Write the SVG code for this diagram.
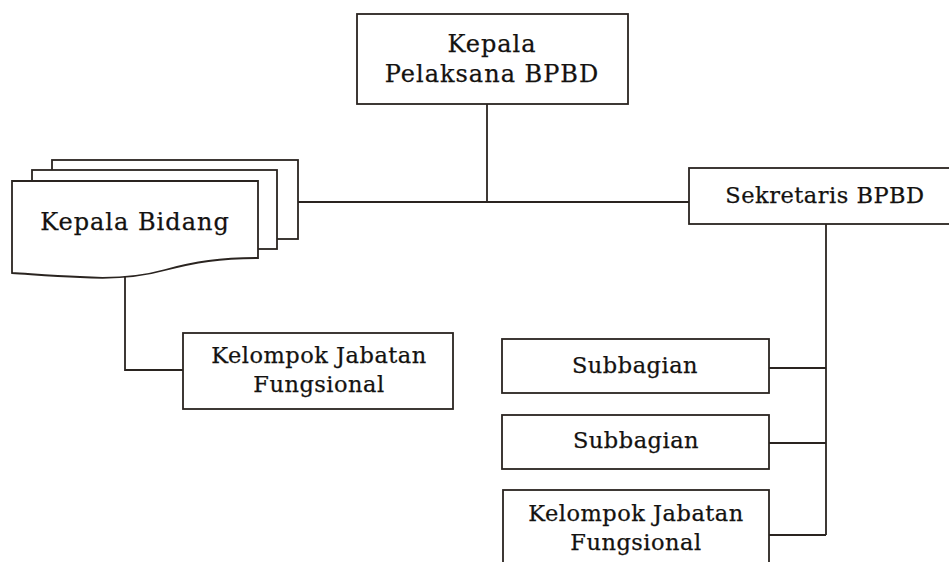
<svg xmlns="http://www.w3.org/2000/svg" width="949" height="562" viewBox="0 0 949 562">
<style>
.box{fill:#ffffff;stroke:#2a2420;stroke-width:1.8}
.ln{fill:none;stroke:#2a2420;stroke-width:1.8}
.t{font-family:"DejaVu Serif","Liberation Serif",serif;fill:#141210;stroke:#141210;stroke-width:0.25;text-anchor:middle;font-size:22.5px;letter-spacing:0.5px}
.tb{font-size:24px;letter-spacing:1px}
</style>
<rect width="949" height="562" fill="#ffffff"/>
<g id="connectors">
<path class="ln" d="M487,104 V202"/>
<path class="ln" d="M298,202 H689"/>
<path class="ln" d="M125,277 V370 H183"/>
<path class="ln" d="M826,224 V535"/>
<path class="ln" d="M769,368 H826"/>
<path class="ln" d="M769,443 H826"/>
<path class="ln" d="M769,535 H826"/>
</g>
<g id="kepala-pelaksana">
<rect class="box" x="357" y="14" width="271" height="90"/>
<text class="t tb" x="492" y="52">Kepala</text>
<text class="t tb" x="492" y="82">Pelaksana BPBD</text>
</g>
<g id="kepala-bidang">
<rect class="box" x="52" y="160" width="246" height="79"/>
<rect class="box" x="32" y="170" width="245" height="79"/>
<path class="box" d="M12,181 H258 V258 C220,258 195,262 165,270 C140,277 110,279 80,277 C50,276 30,274 12,273 Z"/>
<text class="t tb" x="135" y="230">Kepala Bidang</text>
</g>
<g id="sekretaris">
<rect class="box" x="689" y="168" width="265" height="56"/>
<text class="t" x="825" y="203">Sekretaris BPBD</text>
</g>
<g id="kelompok-kiri">
<rect class="box" x="183" y="333" width="270" height="76"/>
<text class="t" x="319" y="363">Kelompok Jabatan</text>
<text class="t" x="319" y="392">Fungsional</text>
</g>
<g id="subbagian-1">
<rect class="box" x="502" y="339" width="267" height="54"/>
<text class="t" x="635" y="373">Subbagian</text>
</g>
<g id="subbagian-2">
<rect class="box" x="502" y="415" width="267" height="54"/>
<text class="t" x="636" y="448">Subbagian</text>
</g>
<g id="kelompok-kanan">
<rect class="box" x="503" y="490" width="266" height="80"/>
<text class="t" x="636" y="521">Kelompok Jabatan</text>
<text class="t" x="636" y="550">Fungsional</text>
</g>
</svg>
